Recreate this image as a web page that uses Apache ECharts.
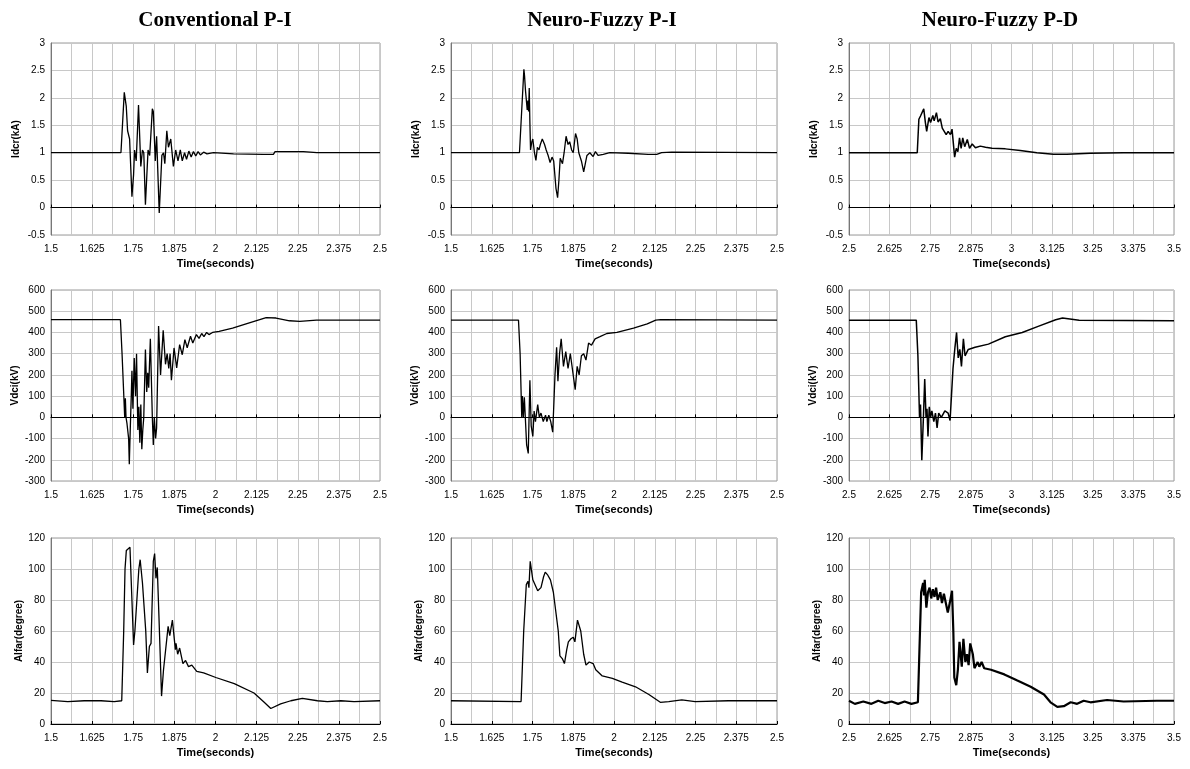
<!DOCTYPE html>
<html>
<head>
<meta charset="utf-8">
<script src="https://cdn.jsdelivr.net/npm/echarts@6/dist/echarts.min.js"></script>
<style>
  html, body { margin: 0; padding: 0; background: #fff; }
  #main { width: 1190px; height: 769px; }
</style>
</head>
<body>
<div id="main"></div>
<script>
// column / row labels
var columnTitles = ['Conventional P-I', 'Neuro-Fuzzy P-I', 'Neuro-Fuzzy P-D'];
var rowNames = ['Idcr(kA)', 'Vdci(kV)', 'Alfar(degree)'];
var xAxisName = 'Time(seconds)';
var xStart = [1.5, 1.5, 2.5];
var yMin = [-0.5, -300, 0];
var yMax = [3, 600, 120];
var yStep = [0.5, 100, 20];

// Idcr - conventional P-I
var idcrConvT = [1.5, 1.599, 1.7126, 1.7227, 1.7287, 1.7328, 1.7389, 1.746, 1.751, 1.754, 1.759, 1.761, 1.766, 1.773, 1.778, 1.782, 1.787, 1.795, 1.80, 1.808, 1.811, 1.817, 1.821, 1.829, 1.837, 1.842, 1.846, 1.852, 1.857, 1.864, 1.872, 1.879, 1.886, 1.893, 1.899, 1.906, 1.912, 1.919, 1.926, 1.933, 1.94, 1.947, 1.954, 1.964, 1.974, 1.994, 2.055, 2.146, 2.176, 2.181, 2.267, 2.308, 2.5];
var idcrConvV = [1.0, 1.0, 1.0, 2.1, 1.85, 1.4, 1.25, 0.2, 0.6, 1.05, 0.85, 0.85, 1.87, 0.75, 1.05, 1.0, 0.05, 1.05, 0.95, 1.8, 1.75, 0.85, 1.3, -0.1, 0.95, 1.0, 0.8, 1.4, 1.1, 1.25, 0.75, 1.05, 0.85, 1.05, 0.85, 1.0, 0.88, 1.03, 0.92, 1.02, 0.94, 1.02, 0.96, 1.01, 0.98, 1.0, 0.98, 0.97, 0.97, 1.02, 1.02, 1.0, 1.0];

// Idcr - neuro-fuzzy P-I
var idcrNfpiT = [1.5, 1.71, 1.7236, 1.7256, 1.7287, 1.7308, 1.7338, 1.7359, 1.738, 1.74, 1.742, 1.744, 1.748, 1.751, 1.756, 1.7605, 1.765, 1.77, 1.774, 1.78, 1.787, 1.792, 1.798, 1.804, 1.81, 1.815, 1.822, 1.827, 1.831, 1.835, 1.842, 1.847, 1.853, 1.859, 1.864, 1.87, 1.875, 1.882, 1.887, 1.892, 1.90, 1.907, 1.912, 1.917, 1.926, 1.936, 1.943, 1.951, 1.967, 1.987, 2.044, 2.105, 2.131, 2.146, 2.177, 2.5];
var idcrNfpiV = [1.0, 1.0, 2.52, 2.4, 2.12, 2.15, 1.78, 1.95, 1.75, 2.18, 1.55, 1.05, 1.2, 1.25, 1.0, 0.86, 1.1, 1.05, 1.15, 1.25, 1.15, 1.05, 0.95, 0.82, 0.92, 0.85, 0.35, 0.18, 0.5, 0.9, 0.8, 1.0, 1.3, 1.15, 1.2, 1.05, 1.0, 1.35, 1.25, 1.0, 0.85, 0.65, 0.8, 0.95, 1.0, 0.93, 1.02, 0.95, 0.97, 1.0, 0.99, 0.97, 0.97, 1.0, 1.01, 1.0];

// Idcr - neuro-fuzzy P-D
var idcrNfpdT = [2.5, 2.71, 2.715, 2.72, 2.73, 2.735, 2.739, 2.746, 2.751, 2.758, 2.762, 2.769, 2.774, 2.781, 2.787, 2.793, 2.799, 2.805, 2.812, 2.817, 2.822, 2.825, 2.83, 2.835, 2.84, 2.845, 2.85, 2.856, 2.864, 2.871, 2.879, 2.889, 2.904, 2.92, 2.94, 2.981, 3.027, 3.078, 3.129, 3.17, 3.242, 3.344, 3.5];
var idcrNfpdV = [1.0, 1.0, 1.61, 1.67, 1.80, 1.55, 1.39, 1.64, 1.55, 1.68, 1.58, 1.73, 1.56, 1.62, 1.45, 1.39, 1.33, 1.39, 1.33, 1.43, 1.11, 0.92, 1.08, 1.02, 1.27, 1.08, 1.27, 1.11, 1.24, 1.08, 1.16, 1.09, 1.12, 1.10, 1.08, 1.07, 1.04, 1.0, 0.97, 0.97, 0.99, 1.0, 1.0];

// Vdci - conventional P-I
var vdciConvT = [1.5, 1.711, 1.716, 1.718, 1.724, 1.726, 1.728, 1.731, 1.736, 1.738, 1.741, 1.744, 1.746, 1.749, 1.753, 1.757, 1.76, 1.764, 1.767, 1.77, 1.773, 1.776, 1.779, 1.782, 1.787, 1.791, 1.794, 1.797, 1.802, 1.808, 1.811, 1.814, 1.818, 1.821, 1.827, 1.833, 1.841, 1.848, 1.853, 1.858, 1.862, 1.866, 1.874, 1.882, 1.891, 1.899, 1.907, 1.914, 1.924, 1.931, 1.942, 1.95, 1.958, 1.965, 1.973, 1.98, 1.991, 2.011, 2.052, 2.093, 2.154, 2.184, 2.225, 2.256, 2.307, 2.5];
var vdciConvV = [460, 460, 298, 290, 0, 90, 0, -30, -100, -221, -50, 100, 220, 40, 280, 100, 300, -60, 50, -120, 60, -150, -60, 0, 320, 120, 210, 140, 370, 0, -130, 0, -100, -50, 430, 200, 410, 250, 300, 230, 300, 175, 327, 233, 343, 295, 366, 328, 382, 350, 390, 372, 395, 380, 400, 390, 400, 405, 420, 440, 470, 468, 455, 452, 458, 458];

// Vdci - neuro-fuzzy P-I
var vdciNfpiT = [1.5, 1.707, 1.712, 1.717, 1.719, 1.722, 1.725, 1.732, 1.737, 1.742, 1.746, 1.751, 1.755, 1.759, 1.766, 1.771, 1.776, 1.783, 1.79, 1.794, 1.80, 1.806, 1.812, 1.819, 1.824, 1.828, 1.833, 1.838, 1.845, 1.852, 1.859, 1.866, 1.881, 1.887, 1.893, 1.90, 1.907, 1.914, 1.922, 1.931, 1.942, 1.957, 1.978, 2.009, 2.06, 2.102, 2.128, 2.143, 2.5];
var vdciNfpiV = [458, 458, 300, 0, 100, 0, 95, -130, -170, 175, -40, -90, 30, -20, 60, 0, 20, -20, 10, -20, 10, -20, -70, 200, 330, 170, 300, 370, 240, 310, 230, 300, 130, 240, 200, 290, 300, 270, 350, 340, 370, 380, 395, 400, 420, 440, 458, 460, 458];

// Vdci - neuro-fuzzy P-D
var vdciNfpdT = [2.5, 2.707, 2.712, 2.717, 2.72, 2.724, 2.729, 2.733, 2.737, 2.74, 2.743, 2.747, 2.751, 2.755, 2.761, 2.766, 2.771, 2.776, 2.784, 2.795, 2.805, 2.811, 2.82, 2.826, 2.831, 2.836, 2.841, 2.846, 2.852, 2.857, 2.867, 2.888, 2.929, 2.981, 3.033, 3.084, 3.136, 3.157, 3.208, 3.5];
var vdciNfpdV = [458, 458, 290, 0, 60, -202, 0, 180, 0, 40, -90, 50, 0, 30, -20, 20, -50, 20, 0, 30, 20, -15, 230, 330, 400, 280, 320, 240, 370, 290, 320, 330, 345, 380, 400, 430, 460, 468, 458, 455];

// Alfar - conventional P-I
var alfaConvT = [1.5, 1.551, 1.601, 1.652, 1.692, 1.715, 1.721, 1.725, 1.729, 1.735, 1.74, 1.746, 1.751, 1.755, 1.761, 1.767, 1.771, 1.778, 1.783, 1.788, 1.793, 1.799, 1.804, 1.811, 1.815, 1.819, 1.823, 1.828, 1.836, 1.842, 1.847, 1.856, 1.861, 1.869, 1.878, 1.88, 1.885, 1.891, 1.901, 1.909, 1.918, 1.928, 1.943, 1.964, 2.001, 2.057, 2.117, 2.148, 2.168, 2.198, 2.229, 2.264, 2.31, 2.34, 2.381, 2.421, 2.5];
var alfaConvV = [15.3, 14.5, 15, 15, 14.5, 15, 60, 100, 112, 111, 114, 80, 51, 60, 59, 100, 106, 91, 90, 60, 33, 50, 52, 105, 110, 94, 101, 70, 18, 35, 36, 63, 57, 67, 48, 52, 45, 49, 39, 41, 37, 38, 34, 33, 30, 26, 20, 14, 10, 13, 15, 16.5, 15, 14.5, 15, 14.5, 15];

// Alfar - neuro-fuzzy P-I
var alfaNfpiT = [1.5, 1.715, 1.723, 1.731, 1.736, 1.739, 1.743, 1.751, 1.757, 1.766, 1.776, 1.784, 1.789, 1.797, 1.805, 1.814, 1.82, 1.829, 1.834, 1.842, 1.848, 1.855, 1.86, 1.868, 1.875, 1.88, 1.888, 1.898, 1.907, 1.914, 1.924, 1.936, 1.944, 1.964, 1.995, 2.025, 2.066, 2.107, 2.142, 2.168, 2.208, 2.249, 2.351, 2.5];
var alfaNfpiV = [15, 14.5, 60, 90, 92, 88, 105, 93, 94, 86, 88, 95, 98, 96, 93, 85, 84, 60, 44, 42, 39, 48, 53, 55, 56, 53, 67, 60, 45, 38, 40, 39, 35, 31, 29.5, 27, 24, 19, 14, 14.5, 15.5, 14.5, 15, 15];

// Alfar - neuro-fuzzy P-D
var alfaNfpdT = [2.5, 2.518, 2.544, 2.569, 2.59, 2.61, 2.631, 2.651, 2.671, 2.692, 2.712, 2.722, 2.728, 2.731, 2.733, 2.738, 2.743, 2.748, 2.753, 2.758, 2.763, 2.768, 2.773, 2.781, 2.786, 2.792, 2.804, 2.81, 2.817, 2.821, 2.824, 2.83, 2.835, 2.84, 2.847, 2.852, 2.858, 2.863, 2.868, 2.873, 2.881, 2.886, 2.896, 2.901, 2.908, 2.916, 2.937, 2.978, 3.018, 3.059, 3.10, 3.12, 3.141, 3.161, 3.182, 3.202, 3.222, 3.243, 3.294, 3.345, 3.447, 3.5];
var alfaNfpdV = [15, 13, 14.5, 13, 15, 13.5, 14.5, 13, 14.5, 13, 14, 85, 91, 83, 93, 75, 85, 88, 81, 87, 82, 88, 80, 85, 78, 84, 72, 78, 86, 60, 30, 25, 35, 53, 37, 55, 40, 45, 38, 52, 45, 36, 40, 37, 40, 36, 35, 32, 28, 24, 19, 14, 11, 11.5, 14, 13, 15, 14, 15.5, 14.5, 15, 15];

var panelT = [idcrConvT, idcrNfpiT, idcrNfpdT, vdciConvT, vdciNfpiT, vdciNfpdT, alfaConvT, alfaNfpiT, alfaNfpdT];
var panelV = [idcrConvV, idcrNfpiV, idcrNfpdV, vdciConvV, vdciNfpiV, vdciNfpdV, alfaConvV, alfaNfpiV, alfaNfpdV];

// layout (pixels)
var colLeft = [51, 451, 849];
var colWidth = [329, 326, 325];
var colTitleX = [210, 597, 995];
var rowTop = [43, 290, 538];
var rowHeight = [192, 191, 186];
var rowNameGap = [30, 31, 26];

var gridColor = '#c8c8c8';
var sans = 'Liberation Sans, Arial, sans-serif';

var dom = document.getElementById('main');
var myChart = echarts.init(dom);

var grids = [], xAxes = [], yAxes = [], series = [], titles = [];

columnTitles.forEach(function (txt, c) {
  titles.push({
    text: txt,
    left: colTitleX[c],
    top: 5,
    textAlign: 'center',
    textStyle: { fontFamily: 'Liberation Serif, Times New Roman, serif', fontWeight: 'bold', fontSize: 21, color: '#000' }
  });
});

for (var i = 0; i < 9; i++) {
  var row = Math.floor(i / 3), col = i % 3;
  grids.push({
    left: colLeft[col], width: colWidth[col], top: rowTop[row], height: rowHeight[row],
    show: true, borderColor: '#9a9a9a', borderWidth: 1
  });
  // axis with labels along the bottom
  xAxes.push({
    gridIndex: i, type: 'value', min: xStart[col], max: xStart[col] + 1, interval: 0.125,
    position: 'bottom',
    axisLine: { show: false, onZero: false },
    axisTick: { show: false },
    splitLine: { show: true, lineStyle: { color: gridColor } },
    minorTick: { show: false, splitNumber: 2 },
    minorSplitLine: { show: true, lineStyle: { color: gridColor } },
    axisLabel: { fontSize: 10, color: '#000', fontFamily: sans, margin: 9 },
    name: xAxisName, nameLocation: 'middle', nameGap: 23,
    nameTextStyle: { fontSize: 11, fontWeight: 'bold', color: '#000', fontFamily: sans }
  });
  // black line through zero with small ticks
  xAxes.push({
    gridIndex: i, type: 'value', min: xStart[col], max: xStart[col] + 1, interval: 0.125,
    position: 'top',
    axisLine: { show: true, onZero: true, lineStyle: { color: '#000', width: 1.2 } },
    axisTick: { show: true, length: 3, lineStyle: { color: '#000' } },
    axisLabel: { show: false },
    splitLine: { show: false }
  });
  yAxes.push({
    gridIndex: i, type: 'value', min: yMin[row], max: yMax[row], interval: yStep[row],
    axisLine: { show: true, onZero: false, lineStyle: { color: '#777' } },
    axisTick: { show: false },
    splitLine: { show: true, lineStyle: { color: gridColor } },
    axisLabel: { fontSize: 10, color: '#000', fontFamily: sans, margin: 6 },
    name: rowNames[row], nameLocation: 'middle', nameGap: rowNameGap[row],
    nameTextStyle: { fontSize: 10, fontWeight: 'bold', color: '#000', fontFamily: sans }
  });
  var t = panelT[i], v = panelV[i];
  series.push({
    type: 'line',
    xAxisIndex: i * 2,
    yAxisIndex: i,
    showSymbol: false,
    animation: false,
    lineStyle: { color: '#000', width: (col === 2 && row === 2) ? 2.2 : (col === 2 ? 1.5 : 1.3) },
    data: t.map(function (x, k) { return [x, v[k]]; })
  });
}

option = {
  backgroundColor: '#fff',
  title: titles,
  grid: grids,
  xAxis: xAxes,
  yAxis: yAxes,
  series: series
};

if (option && typeof option === 'object') {
  myChart.setOption(option, true);
}
</script>
</body>
</html>
